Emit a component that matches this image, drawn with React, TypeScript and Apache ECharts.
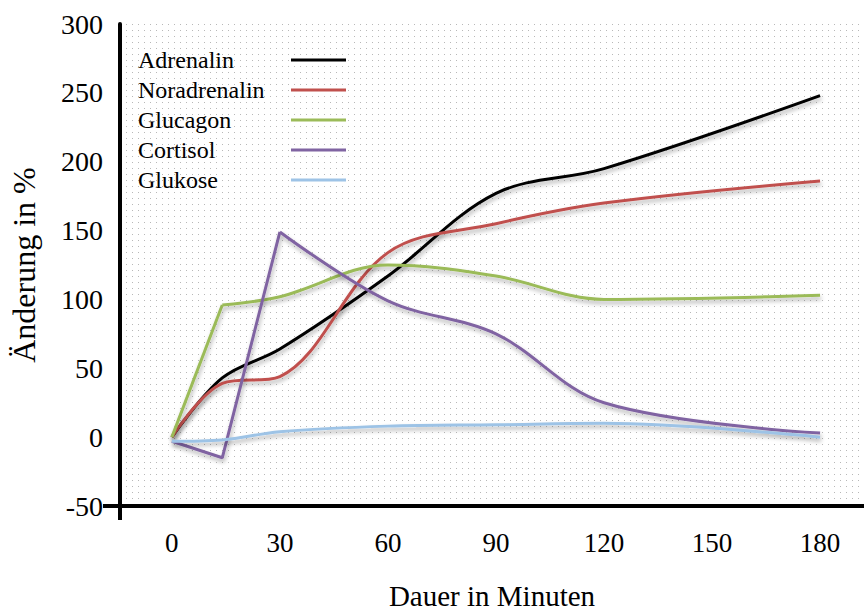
import React, { useEffect, useRef } from "react";
import * as echarts from "echarts";

// Time points (minutes)
const times = [0, 14, 30, 60, 90, 120, 180];
// Change in % per hormone
const adrenalin = [0, 43, 64, 117, 177, 195, 248];
const noradrenalin = [0, 39, 44, 134, 155, 170, 186];
const glucagon = [0, 96, 102, 125, 117, 100, 103];
const cortisol = [-3, -15, 149, 99, 75, 25, 3];
const glukose = [-3, -2, 4, 8, 9, 10, 0];

const seriesNames = ["Adrenalin", "Noradrenalin", "Glucagon", "Cortisol", "Glukose"];
const xTickLabels = [0, 30, 60, 90, 120, 150, 180];

const SERIF = "'Liberation Serif', 'Times New Roman', serif";

const colors: Record<string, string> = {
  Adrenalin: "#000000",
  Noradrenalin: "#C0504D",
  Glucagon: "#9BBB59",
  Cortisol: "#8064A2",
  Glukose: "#9DC3E6",
};

function pairs(ys: number[], from = 0, to = times.length) {
  const out: number[][] = [];
  for (let i = from; i < to; i++) out.push([times[i], ys[i]]);
  return out;
}

function lineSeries(name: string, data: number[][], smooth: number | boolean) {
  return {
    name,
    type: "line",
    data,
    smooth,
    showSymbol: false,
    symbol: "none",
    itemStyle: { color: colors[name] },
    lineStyle: {
      color: colors[name],
      width: 3,
      shadowColor: "rgba(0,0,0,0.3)",
      shadowBlur: 4,
      shadowOffsetX: 1,
      shadowOffsetY: 3,
    },
    emphasis: { disabled: true },
  };
}

export default function App() {
  const ref = useRef<HTMLDivElement>(null);

  useEffect(() => {
    if (!ref.current) return;
    const chart = echarts.init(ref.current, undefined, { renderer: "svg" });

    const c = document.createElement("canvas");
    c.width = 6;
    c.height = 6;
    const ctx = c.getContext("2d");
    if (ctx) {
      ctx.fillStyle = "#ffffff";
      ctx.fillRect(0, 0, 6, 6);
      ctx.fillStyle = "#b8b8b8";
      ctx.fillRect(0, 0, 1, 1);
    }

    const SM = 0.35;

    chart.setOption({
      animation: false,
      backgroundColor: "#ffffff",
      grid: {
        left: 119.5,
        right: 0,
        top: 24,
        bottom: 101,
        show: true,
        borderWidth: 0,
        backgroundColor: { image: c, repeat: "repeat", imageWidth: 6, imageHeight: 6 },
      },
      legend: {
        data: seriesNames,
        orient: "vertical",
        left: 138,
        top: 48,
        align: "right",
        padding: 0,
        itemGap: 6,
        itemWidth: 55,
        itemHeight: 3,
        icon: "rect",
        selectedMode: false,
        formatter: (n: string) => `{t|${n}}`,
        textStyle: {
          fontFamily: SERIF,
          fontSize: 24,
          color: "#000",
          rich: {
            t: { width: 148, align: "left", fontFamily: SERIF, fontSize: 24, color: "#000", lineHeight: 24 },
          },
        },
      },
      xAxis: {
        type: "value",
        min: -14.4,
        max: 192.2,
        name: "Dauer in Minuten",
        nameLocation: "middle",
        nameGap: 75,
        nameTextStyle: { fontFamily: SERIF, fontSize: 29, color: "#000" },
        axisLine: { show: true, onZero: false, lineStyle: { color: "#000", width: 4 } },
        axisTick: { show: true, customValues: [-14.4], length: 14, lineStyle: { color: "#000", width: 4 } },
        axisLabel: {
          customValues: xTickLabels,
          color: "#000",
          fontFamily: SERIF,
          fontSize: 27,
          margin: 23,
        },
        splitLine: { show: false },
      },
      yAxis: {
        type: "value",
        min: -50,
        max: 300,
        interval: 50,
        name: "Änderung in %",
        nameLocation: "middle",
        nameGap: 80,
        nameTextStyle: { fontFamily: SERIF, fontSize: 32, color: "#000" },
        axisLine: { show: true, onZero: false, lineStyle: { color: "#000", width: 4 } },
        axisTick: { show: true, customValues: [-50], length: 17, lineStyle: { color: "#000", width: 4 } },
        axisLabel: { color: "#000", fontFamily: SERIF, fontSize: 28, margin: 17 },
        splitLine: { show: false },
      },
      series: [
        lineSeries("Adrenalin", pairs(adrenalin), SM),
        lineSeries("Noradrenalin", pairs(noradrenalin), SM),
        lineSeries("Glucagon", pairs(glucagon, 0, 2), false),
        lineSeries("Glucagon", pairs(glucagon, 1), SM),
        lineSeries("Cortisol", pairs(cortisol, 0, 3), false),
        lineSeries("Cortisol", pairs(cortisol, 2), SM),
        lineSeries("Glukose", pairs(glukose), SM),
      ],
    });

    return () => chart.dispose();
  }, []);

  return (
    <div
      ref={ref}
      style={{ position: "fixed", left: 0, top: 0, width: 864, height: 615, background: "#fff" }}
    />
  );
}
